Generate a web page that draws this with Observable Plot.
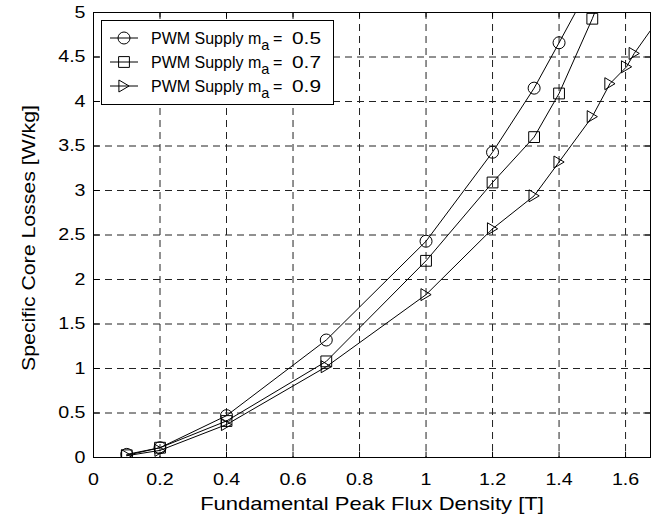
<!DOCTYPE html>
<html><head><meta charset="utf-8">
<script src="https://cdn.jsdelivr.net/npm/d3@7"></script>
<script src="https://cdn.jsdelivr.net/npm/@observablehq/plot@0.6"></script>
<style>body{margin:0;background:#fff}</style>
</head><body><div id="chart"></div>
<script>
// ---- data ----
const legendPrefix = "PWM Supply m";
const legendSub = "a";
const maValues = ["0.5", "0.7", "0.9"];

const flux05 = [0.1, 0.2, 0.4, 0.7, 1.0, 1.2, 1.325, 1.4, 1.5];
const loss05 = [0.035, 0.11, 0.47, 1.32, 2.43, 3.43, 4.15, 4.66, 5.35];

const flux07 = [0.1, 0.2, 0.4, 0.7, 1.0, 1.2, 1.325, 1.4, 1.5, 1.6];
const loss07 = [0.025, 0.11, 0.41, 1.08, 2.21, 3.09, 3.60, 4.09, 4.93, 5.9];

const flux09 = [0.1, 0.2, 0.4, 0.7, 1.0, 1.2, 1.325, 1.4, 1.5, 1.553, 1.603, 1.626, 1.7];
const loss09 = [0.02, 0.08, 0.37, 1.02, 1.83, 2.57, 2.94, 3.32, 3.83, 4.20, 4.39, 4.54, 4.93];

const xTicks = [0, 0.2, 0.4, 0.6, 0.8, 1.0, 1.2, 1.4, 1.6];
const yTicks = [0, 0.5, 1, 1.5, 2, 2.5, 3, 3.5, 4, 4.5, 5];
const xDomain = [0, 1.675];
const yDomain = [0, 5];
const xLabel = "Fundamental Peak Flux Density [T]";
const yLabel = "Specific Core Losses [W/kg]";

// ---- marker symbols ----
const circleSym = {draw(ctx, size) { const r = Math.sqrt(size / Math.PI); ctx.moveTo(r, 0); ctx.arc(0, 0, r, 0, 2 * Math.PI); ctx.closePath(); }};
const squareSym = {draw(ctx, size) { const r = Math.sqrt(size / Math.PI) * 0.9; ctx.moveTo(-r, -r); ctx.lineTo(r, -r); ctx.lineTo(r, r); ctx.lineTo(-r, r); ctx.closePath(); }};
const triSym = {draw(ctx, size) { const r = Math.sqrt(size / Math.PI); ctx.moveTo(-0.85 * r, -r); ctx.lineTo(0.85 * r, 0); ctx.lineTo(-0.85 * r, r); ctx.closePath(); }};
const symbols = [circleSym, squareSym, triSym];

const series = [[flux05, loss05], [flux07, loss07], [flux09, loss09]];
const rows = series.flatMap(([xs, ys], k) => xs.map((x, j) => ({x, y: ys[j], k})));

const fmt = d => String(+d.toFixed(1));
const FONT = "'Liberation Sans', Arial, Helvetica, sans-serif";
const xTickLen = (xDomain[1] - xDomain[0]) * 0.012;
const yTickLen = (yDomain[1] - yDomain[0]) * 0.012;
const gridStyle = {stroke: "#222", strokeWidth: 1, strokeDasharray: "7,5"};

const plot = Plot.plot({
  width: 657, height: 522,
  marginLeft: 93, marginRight: 7, marginTop: 12, marginBottom: 65,
  style: {fontFamily: FONT, fontSize: "16.5px", background: "white", color: "black"},
  x: {domain: xDomain, ticks: xTicks, tickFormat: fmt, tickSize: 0, tickPadding: 16, label: null},
  y: {domain: yDomain, ticks: yTicks, tickFormat: fmt, tickSize: 0, tickPadding: 8, label: null},
  marks: [
    Plot.ruleX(xTicks.filter(d => d > xDomain[0] && d < xDomain[1]), {x: d => d, ...gridStyle}),
    Plot.ruleY(yTicks.filter(d => d > yDomain[0] && d < yDomain[1]), {y: d => d, ...gridStyle}),
    // inward tick marks on all four sides
    Plot.ruleX(xTicks, {x: d => d, y1: yDomain[0], y2: yDomain[0] + yTickLen, stroke: "black"}),
    Plot.ruleX(xTicks, {x: d => d, y1: yDomain[1] - yTickLen, y2: yDomain[1], stroke: "black"}),
    Plot.ruleY(yTicks, {y: d => d, x1: xDomain[0], x2: xDomain[0] + xTickLen, stroke: "black"}),
    Plot.ruleY(yTicks, {y: d => d, x1: xDomain[1] - xTickLen, x2: xDomain[1], stroke: "black"}),
    ...symbols.map((s, k) => Plot.line(rows.filter(r => r.k === k), {x: "x", y: "y", stroke: "black", strokeWidth: 1, clip: true})),
    ...symbols.map((s, k) => Plot.dot(rows.filter(r => r.k === k), {x: "x", y: "y", symbol: s, r: 6, stroke: "black", strokeWidth: 1, fill: "none", clip: true})),
    Plot.frame({stroke: "black", strokeWidth: 1}),
    Plot.text([xLabel], {text: d => d, frameAnchor: "bottom", dy: 52, fontSize: 18.5, textAnchor: "middle"}),
    Plot.text([yLabel], {text: d => d, frameAnchor: "left", dx: -64, dy: 3, rotate: -90, fontSize: 18.5, textAnchor: "middle"})
  ]
});

// the reference's axis text is slightly wider than Arial: stretch horizontally
d3.select(plot).selectAll("text").each(function() {
  const t = this.getAttribute("transform") || "";
  const s = this.textContent === yLabel ? 1.15 : 1.19;
  this.setAttribute("transform", (t + ` scale(${s},1)`).trim());
});

// ---- legend (inside the axes, top-left) ----
const svg = d3.select(plot);
const lg = svg.append("g").attr("font-family", FONT).attr("font-size", 16).attr("text-anchor", "start");
lg.append("rect").attr("x", 101.5).attr("y", 20.5).attr("width", 232).attr("height", 84)
  .attr("fill", "white").attr("stroke", "black");
const rowY = [38, 62, 86];
maValues.forEach((v, i) => {
  const y = rowY[i];
  lg.append("line").attr("x1", 110).attr("x2", 138).attr("y1", y).attr("y2", y).attr("stroke", "black");
  lg.append("path").attr("transform", `translate(124,${y})`)
    .attr("d", d3.symbol(symbols[i], 36 * Math.PI)())
    .attr("fill", "none").attr("stroke", "black");
  const t = lg.append("text").attr("x", 151).attr("y", y + 5.5);
  t.append("tspan").text(legendPrefix);
  t.append("tspan").attr("dy", 6).attr("font-size", 14.5).text(legendSub);
  lg.append("text").attr("x", 273).attr("y", y + 5.5).text("=");
  lg.append("text").attr("x", 292).attr("y", y + 5.5)
    .attr("textLength", 29).attr("lengthAdjust", "spacingAndGlyphs").text(v);
});

document.getElementById("chart").appendChild(plot);
</script>
</body></html>
